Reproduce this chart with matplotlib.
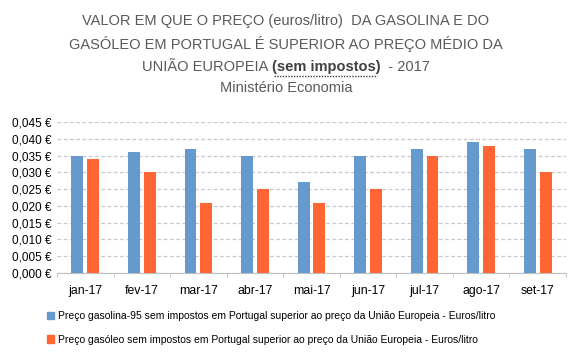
import numpy as np
import matplotlib

matplotlib.use("Agg")
import matplotlib.pyplot as plt
from matplotlib.patches import Patch
from matplotlib.ticker import FuncFormatter, MultipleLocator

# dados (euros/litro)
meses = ["jan-17", "fev-17", "mar-17", "abr-17", "mai-17", "jun-17", "jul-17", "ago-17", "set-17"]
gasolina = [0.035, 0.036, 0.037, 0.035, 0.027, 0.035, 0.037, 0.039, 0.037]
gasoleo = [0.034, 0.030, 0.021, 0.025, 0.021, 0.025, 0.035, 0.038, 0.030]

leg_gasolina = "Preço gasolina-95 sem impostos em Portugal superior ao preço da União Europeia - Euros/litro"
leg_gasoleo = "Preço gasóleo sem impostos em Portugal superior ao preço da União Europeia - Euros/litro"

AZUL = "#6699CC"
LARANJA = "#FF6633"
CINZA_TXT = "#595959"

plt.rcParams["font.family"] = ["Liberation Sans", "DejaVu Sans"]

fig = plt.figure(figsize=(5.72, 3.55), dpi=100)
ax = fig.add_axes([0.0997, 0.231, 0.8898, 0.425])

x = np.arange(len(meses))
w = 0.21
ax.bar(x - 0.14, gasolina, w, color=AZUL, zorder=3)
ax.bar(x + 0.14, gasoleo, w, color=LARANJA, zorder=3)

ax.set_xlim(-0.5, len(meses) - 0.5)
ax.set_ylim(0, 0.045)
ax.yaxis.set_major_locator(MultipleLocator(0.005))
ax.yaxis.set_major_formatter(FuncFormatter(lambda v, p: f"{v:.3f} €".replace(".", ",")))
ax.grid(axis="y", color="#C8C8C8", linestyle=(0, (3, 2)), linewidth=0.9, zorder=0)

for s in ["top", "right", "left"]:
    ax.spines[s].set_visible(False)
ax.spines["bottom"].set_color("#BFBFBF")

ax.set_xticks(x)
ax.set_xticklabels(meses, fontsize=8.8, color="black")
ax.set_xticks(np.arange(-0.5, len(meses)), minor=True)
ax.tick_params(axis="x", which="major", length=0, pad=9)
ax.tick_params(axis="x", which="minor", length=3, color="#BFBFBF", direction="out")
ax.tick_params(axis="y", length=0, labelsize=8.5, labelcolor="black", pad=4)

# titulo
TS = 10.5
fig.text(0.5, 1 - 21 / 355, "VALOR EM QUE O PREÇO (euros/litro)  DA GASOLINA E DO",
         ha="center", va="center", fontsize=TS, color=CINZA_TXT)
fig.text(0.5, 1 - 44 / 355, "GASÓLEO EM PORTUGAL É SUPERIOR AO PREÇO MÉDIO DA",
         ha="center", va="center", fontsize=TS, color=CINZA_TXT)

# linha 3 com "(sem impostos)" em negrito sublinhado
y3 = 1 - 67 / 355
r = fig.canvas.get_renderer()
partes = [("UNIÃO EUROPEIA ", "normal", CINZA_TXT),
          ("(sem impostos)", "bold", "#404040"),
          ("  - 2017", "normal", CINZA_TXT)]
objs = [fig.text(0, y3, t, ha="left", va="center", fontsize=TS, fontweight=fw, color=c)
        for t, fw, c in partes]
larg = [o.get_window_extent(r).width / fig.bbox.width for o in objs]
x0 = 0.5 - sum(larg) / 2
for o, l in zip(objs, larg):
    o.set_x(x0)
    if o.get_fontweight() == "bold":
        fig.add_artist(plt.Line2D([x0 + 0.004, x0 + l - 0.006], [y3 - 0.024, y3 - 0.024],
                                  transform=fig.transFigure, color="#404040",
                                  linestyle=(0, (1, 1)), linewidth=1))
    x0 += l

fig.text(0.5, 1 - 88 / 355, "Ministério Economia", ha="center", va="center",
         fontsize=TS, color=CINZA_TXT)

# legenda
handles = [Patch(color=AZUL, label=leg_gasolina), Patch(color=LARANJA, label=leg_gasoleo)]
fig.legend(handles=handles, loc="upper left", bbox_to_anchor=(0.075, 1 - 307 / 355),
           frameon=False, fontsize=7.5, handlelength=0.7, handleheight=0.7,
           handletextpad=0.35, labelspacing=1.3, borderaxespad=0)

fig.savefig("out.png", dpi=100)
